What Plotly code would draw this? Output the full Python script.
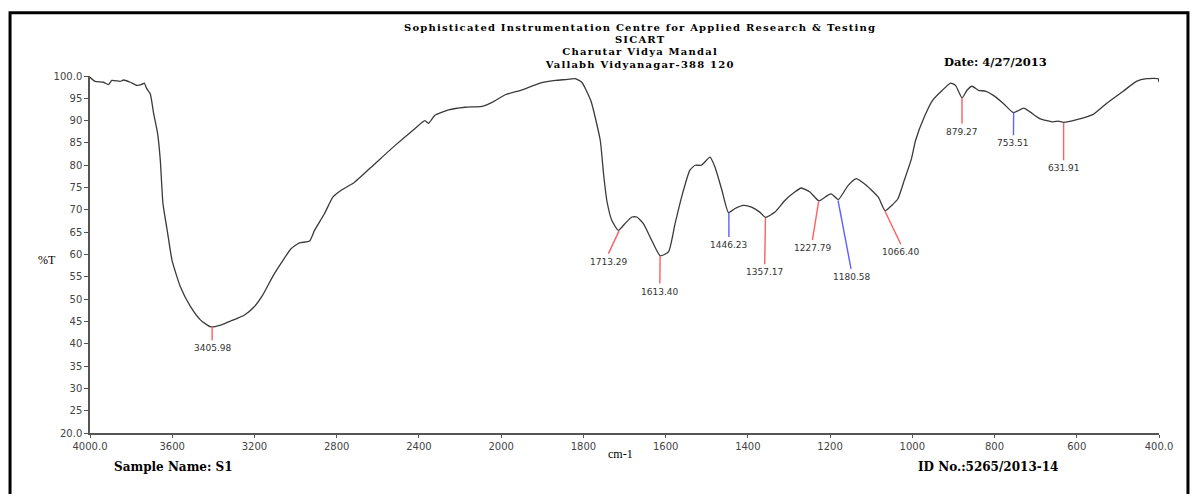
import numpy as np
import plotly.graph_objects as go

# ---- data (wavenumber cm-1, %T) ----
wavenumber = [4000, 3976, 3935, 3910, 3894, 3853, 3837, 3804, 3772, 3748, 3736, 3723,
              3707, 3690, 3671, 3658, 3645, 3622, 3601, 3560, 3511, 3462, 3413, 3364,
              3315, 3250, 3201, 3160, 3112, 3071, 3022, 2981, 2932, 2908, 2859, 2818,
              2778, 2713, 2615, 2517, 2420, 2371, 2354, 2322, 2256, 2175, 2093, 2044,
              1990, 1949, 1909, 1868, 1844, 1820, 1804, 1782, 1759, 1751, 1743, 1731,
              1715, 1699, 1682, 1670, 1654, 1634, 1613, 1593, 1577, 1561, 1541, 1528,
              1513, 1492, 1480, 1463, 1447, 1431, 1411, 1391, 1371, 1357, 1334, 1310,
              1286, 1270, 1249, 1227, 1205, 1197, 1180, 1156, 1136, 1112, 1083, 1066,
              1050, 1035, 1020, 1002, 992, 971, 951, 927, 907, 895, 879, 867, 855, 839,
              822, 802, 778, 754, 729, 713, 689, 657, 645, 632, 600, 560, 527, 487, 455,
              430, 402, 400]
transmittance = [99.7, 98.8, 98.6, 98.1, 99.0, 98.8, 99.1, 98.6, 97.9, 98.1, 98.4, 97.1,
                 96.0, 91.5, 87.1, 81.1, 71.4, 64.7, 58.7, 52.7, 48.3, 45.3, 43.8, 44.2,
                 45.1, 46.4, 48.3, 50.9, 55.0, 58.0, 61.3, 62.6, 63.0, 65.4, 69.2, 72.9,
                 74.4, 76.2, 80.3, 84.4, 88.2, 90.0, 89.4, 91.2, 92.4, 93.0, 93.2, 94.1,
                 95.8, 96.9, 98.3, 99.0, 99.2, 99.4, 98.6, 94.5, 85.6, 78.1, 72.1, 67.7,
                 65.4, 66.9, 68.4, 68.4, 66.9, 63.2, 59.7, 60.6, 66.9, 72.9, 78.9, 80.0,
                 80.0, 81.8, 79.6, 74.4, 69.4, 70.3, 71.0, 70.6, 69.5, 68.3, 69.5, 72.1,
                 74.0, 74.9, 74.0, 72.0, 73.3, 73.6, 72.3, 75.5, 77.0, 75.5, 72.9, 69.8,
                 71.0, 72.5, 76.5, 81.5, 85.6, 90.8, 94.5, 96.8, 98.4, 97.9, 95.1, 96.8,
                 97.7, 96.8, 96.6, 95.6, 93.8, 91.8, 92.8, 91.9, 90.4, 89.7, 89.9, 89.6,
                 90.2, 91.4, 93.9, 96.6, 98.8, 99.4, 99.4, 98.6]

# peak picks
peak_labels = ["3405.98", "1713.29", "1613.40", "1446.23", "1357.17", "1227.79",
               "1180.58", "1066.40", "879.27", "753.51", "631.91"]
peak_wn = [3405.98, 1713.29, 1613.40, 1446.23, 1357.17, 1227.79, 1180.58, 1066.40,
           879.27, 753.51, 631.91]
peak_T = [43.8, 65.3, 59.6, 69.3, 68.2, 71.9, 72.1, 69.7, 95.1, 91.8, 89.5]
tail_wn = [3406, 1739, 1614, 1446, 1359, 1243, 1149, 1028, 879, 754, 632]
tail_T = [40.8, 60.2, 53.5, 63.9, 57.8, 63.2, 56.8, 62.3, 89.3, 86.7, 81.1]
peak_colour = ["red", "red", "red", "blue", "red", "red", "blue", "red", "red", "blue", "red"]

x_ticks = [4000, 3600, 3200, 2800, 2400, 2000, 1800, 1600, 1400, 1200, 1000, 800, 600, 400]
x_tick_text = ["4000.0", "3600", "3200", "2800", "2400", "2000", "1800", "1600", "1400",
               "1200", "1000", "800", "600", "400.0"]
y_ticks = list(range(20, 101, 5))
y_tick_text = ["20.0"] + [str(v) for v in range(25, 100, 5)] + ["100.0"]

header_lines = ["Sophisticated Instrumentation Centre for Applied Research &amp; Testing",
                "SICART", "Charutar Vidya Mandal", "Vallabh Vidyanagar-388 120"]


def to_axis(w):
    """Instrument x-scale: doubled expansion below 2000 cm-1."""
    w = np.asarray(w, dtype=float)
    return np.where(w >= 2000, 4000 - w, 2000 + 2 * (2000 - w))


RED = "#ff5f5f"
BLUE = "#6060ff"
SERIF = "DejaVu Serif"

fig = go.Figure()
fig.add_trace(go.Scatter(x=to_axis(wavenumber), y=transmittance, mode="lines",
                         line=dict(color="#3a3a3a", width=1.3, shape="spline", smoothing=0.5),
                         hoverinfo="skip"))

for col, cval in (("red", RED), ("blue", BLUE)):
    xs, ys = [], []
    for i, c in enumerate(peak_colour):
        if c == col:
            xs += [float(to_axis(peak_wn[i])), float(to_axis(tail_wn[i])), None]
            ys += [peak_T[i], tail_T[i], None]
    fig.add_trace(go.Scatter(x=xs, y=ys, mode="lines", line=dict(color=cval, width=1.4),
                             hoverinfo="skip"))

for i, lab in enumerate(peak_labels):
    fig.add_annotation(x=float(to_axis(tail_wn[i])), y=tail_T[i], text=lab, showarrow=False,
                       xanchor="center", yanchor="top", yshift=-1,
                       font=dict(family="DejaVu Sans", size=9, color="#333333"))

# header block: tight line spacing, letter spacing for the wide original lettering
header_text = "<br>".join(
    f"<span style='font-size:10px;letter-spacing:1.2px'><b>{t}</b></span>"
    for t in header_lines)
fig.add_annotation(xref="paper", yref="paper", x=0.5145, y=1.158, yanchor="top",
                   xanchor="center", align="center", showarrow=False, text=header_text,
                   font=dict(family=SERIF, size=9.4, color="black"))


def ann(text, x, y, size=11.5, bold=True, xanchor="center", family=SERIF):
    fig.add_annotation(xref="paper", yref="paper", x=x, y=y, showarrow=False,
                       text=f"<b>{text}</b>" if bold else text, xanchor=xanchor,
                       yanchor="middle", font=dict(family=family, size=size, color="black"))


ann("Date: 4/27/2013", 0.797, 1.040, xanchor="left")
ann("Sample Name: S1", 0.0206, -0.0964, size=12, xanchor="left")
ann("ID No.:5265/2013-14", 0.773, -0.0964, size=12, xanchor="left")
ann("%T", -0.040, 0.485, size=12, bold=False, family="Liberation Serif")
ann("cm-1", 0.496, -0.060, size=12, bold=False, family="Liberation Serif")

# page border
fig.add_shape(type="rect", xref="paper", yref="paper", x0=-0.0748, x1=1.0271, y0=-0.25,
              y1=1.177, line=dict(color="black", width=3))

fig.update_xaxes(range=[0, 5200], tickvals=to_axis(x_ticks).tolist(), ticktext=x_tick_text,
                 showgrid=False, zeroline=False, showline=True, linecolor="#555555",
                 linewidth=1.5, ticks="outside", ticklen=3, tickcolor="#555555",
                 tickfont=dict(family="DejaVu Sans", size=10, color="#444444"))
fig.update_yaxes(range=[20, 100], tickvals=y_ticks, ticktext=y_tick_text, showgrid=False,
                 zeroline=False, showline=True, linecolor="#555555", linewidth=1.5,
                 ticks="outside", ticklen=4, tickcolor="#555555",
                 tickfont=dict(family="DejaVu Sans", size=10, color="#444444"))
fig.update_layout(width=1182, height=486, autosize=False, showlegend=False,
                  plot_bgcolor="white", paper_bgcolor="white",
                  margin=dict(l=82, r=31, t=67.5, b=60.5))
fig.write_html("out.html")
